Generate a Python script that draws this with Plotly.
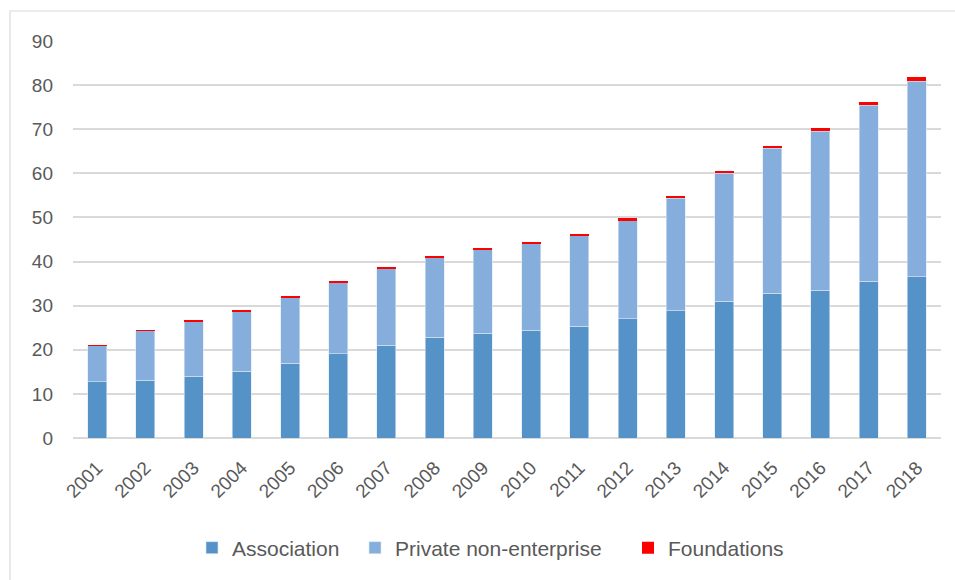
import plotly.graph_objects as go

years = [str(y) for y in range(2001, 2019)]
association = [12.8, 13.1, 14.0, 15.1, 17.0, 19.1, 21.0, 22.8, 23.7, 24.4, 25.3, 27.0, 28.8, 31.0, 32.8, 33.5, 35.5, 36.6]
private_non_enterprise = [8.1, 11.2, 12.5, 13.6, 14.9, 16.1, 17.5, 18.2, 19.1, 19.8, 20.6, 22.4, 25.5, 29.0, 32.9, 36.0, 39.9, 44.3]
foundations = [0.02, 0.03, 0.05, 0.1, 0.15, 0.2, 0.2, 0.25, 0.3, 0.3, 0.3, 0.45, 0.5, 0.6, 0.55, 0.7, 0.75, 0.85]
y_ticks = [0, 10, 20, 30, 40, 50, 60, 70, 80, 90]

W, H = 955, 580
L, R, T, B = 73, 14, 41, 142
FONT = "Liberation Sans"
TXT = "#595959"

fig = go.Figure()
fig.add_bar(x=years, y=association, name="Association", legend="legend",
            marker=dict(color="#5592C8", line=dict(color="#DCE7F4", width=0.6)))
fig.add_bar(x=years, y=private_non_enterprise, name="Private non-enterprise", legend="legend2",
            marker=dict(color="#85AEDC", line=dict(color="#DCE7F4", width=0.6)))
fig.add_bar(x=years, y=foundations, name="Foundations", legend="legend3",
            marker=dict(color="#FF0000", line=dict(width=0)))

pw, ph = W - L - R, H - T - B
def px(x): return (x - L) / pw
def py(y): return (H - B - y) / ph

def leg(xpix):
    return dict(orientation="h", xref="container", yref="container", x=xpix / W, y=1 - 548 / H,
                xanchor="left", yanchor="middle", font=dict(size=21, color=TXT), itemwidth=30,
                bgcolor="rgba(0,0,0,0)")

fig.update_layout(
    width=W, height=H,
    barmode="stack", bargap=0.606,
    margin=dict(l=L, r=R, t=T, b=B),
    plot_bgcolor="white", paper_bgcolor="white",
    font=dict(family=FONT, size=19, color=TXT),
    xaxis=dict(tickangle=-45, showgrid=False, showline=False, ticks="", ticklabelstandoff=14,
               tickfont=dict(size=19, color=TXT)),
    yaxis=dict(range=[0, 90], tickvals=y_ticks, showgrid=True, gridcolor="#D9D9D9", gridwidth=1.8,
               zeroline=True, zerolinecolor="#D9D9D9", zerolinewidth=2, ticks="", ticklabelstandoff=19,
               tickfont=dict(size=19, color=TXT)),
    legend=leg(192), legend2=leg(355), legend3=leg(628),
    showlegend=True,
    shapes=[dict(type="rect", xref="paper", yref="paper", x0=px(10), x1=px(975), y0=py(600), y1=py(11),
                 line=dict(color="#D9D9D9", width=1.2), fillcolor="rgba(0,0,0,0)", layer="below")],
)
fig.write_html("out.html")
